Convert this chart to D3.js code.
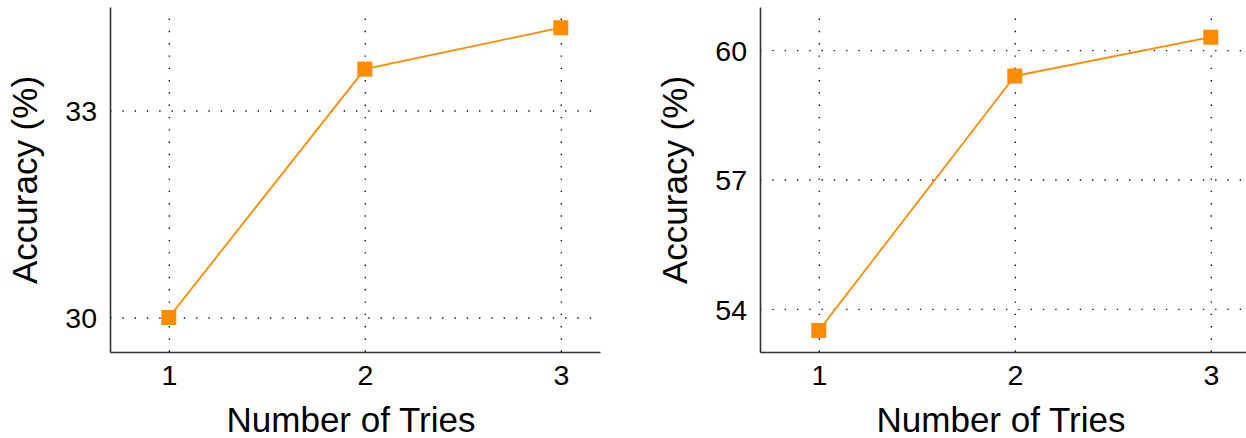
<!DOCTYPE html>
<html>
<head>
<meta charset="utf-8">
<script src="https://cdn.jsdelivr.net/npm/d3@7/dist/d3.min.js"></script>
<style>
  html, body { margin: 0; padding: 0; background: #fff; }
  svg { display: block; }
  text { font-family: "Liberation Sans", Arial, Helvetica, sans-serif; fill: #000; }
</style>
</head>
<body>
<svg id="chart" width="1246" height="438"></svg>
<script>
// ---- data ----
const tries = [1, 2, 3];
const accuracyLeft = [30.0, 33.6, 34.2];
const accuracyRight = [53.5, 59.4, 60.3];
const yTicksLeft = [30, 33];
const yTicksRight = [54, 57, 60];
const xTicks = [1, 2, 3];
const xLabel = "Number of Tries";
const yLabel = "Accuracy (%)";

const svg = d3.select("#chart");
const orange = "#ff8c00";

function panel(offsetX, values, yDomain, yTicks) {
  const left = offsetX, right = offsetX + 490, top = 7, bottom = 352;
  const x = d3.scaleLinear().domain([0.7, 3.2]).range([left, right]);
  const y = d3.scaleLinear().domain(yDomain).range([bottom, top]);
  const g = svg.append("g");

  // grid
  const gridStyle = sel => sel.attr("stroke", "#111").attr("stroke-width", 1.4)
    .attr("stroke-dasharray", "1.4,10.9").attr("fill", "none");
  g.append("g").call(d3.axisBottom(x).tickValues(xTicks).tickSize(-(bottom - top - 5)).tickFormat(""))
    .attr("transform", `translate(0,${bottom})`)
    .call(a => a.select(".domain").remove())
    .call(a => a.selectAll(".tick line").call(gridStyle));
  g.append("g").call(d3.axisLeft(y).tickValues(yTicks).tickSize(-(right - left)).tickFormat(""))
    .attr("transform", `translate(${left},0)`)
    .call(a => a.select(".domain").remove())
    .call(a => a.selectAll(".tick line").call(gridStyle));

  // axes (spines)
  const xa = g.append("g").attr("transform", `translate(0,${bottom})`)
    .call(d3.axisBottom(x).tickValues(xTicks).tickSize(0).tickPadding(33).tickFormat(d3.format("d")));
  xa.select(".domain").attr("stroke", "#333").attr("stroke-width", 1.6);
  xa.selectAll("text").style("font-size", "28.5px").attr("fill", "#000").attr("dy", 0)
    .attr("font-family", "Liberation Sans, Arial, sans-serif");

  const ya = g.append("g").attr("transform", `translate(${left},0)`)
    .call(d3.axisLeft(y).tickValues(yTicks).tickSize(0).tickPadding(13).tickFormat(d3.format("d")));
  ya.select(".domain").attr("stroke", "#333").attr("stroke-width", 1.6);
  ya.selectAll("text").style("font-size", "28.5px").attr("fill", "#000").attr("dy", "0.36em")
    .attr("font-family", "Liberation Sans, Arial, sans-serif");

  // line
  const pts = tries.map((t, i) => [t, values[i]]);
  g.append("path").datum(pts)
    .attr("fill", "none").attr("stroke", orange).attr("stroke-width", 1.8)
    .attr("d", d3.line().x(d => x(d[0])).y(d => y(d[1])));
  g.selectAll("rect.m").data(pts).enter().append("rect")
    .attr("x", d => x(d[0]) - 7.5).attr("y", d => y(d[1]) - 7.5)
    .attr("width", 15).attr("height", 15).attr("fill", orange);

  // labels
  g.append("text").attr("x", left + 241).attr("y", 432)
    .attr("text-anchor", "middle").style("font-size", "35px").text(xLabel);
  g.append("text").attr("transform", `translate(${left - 73},180) rotate(-90)`)
    .attr("text-anchor", "middle").style("font-size", "35px").text(yLabel);
}

panel(110, accuracyLeft, [29.5, 34.5], yTicksLeft);
panel(760, accuracyRight, [53, 61], yTicksRight);
</script>
</body>
</html>
